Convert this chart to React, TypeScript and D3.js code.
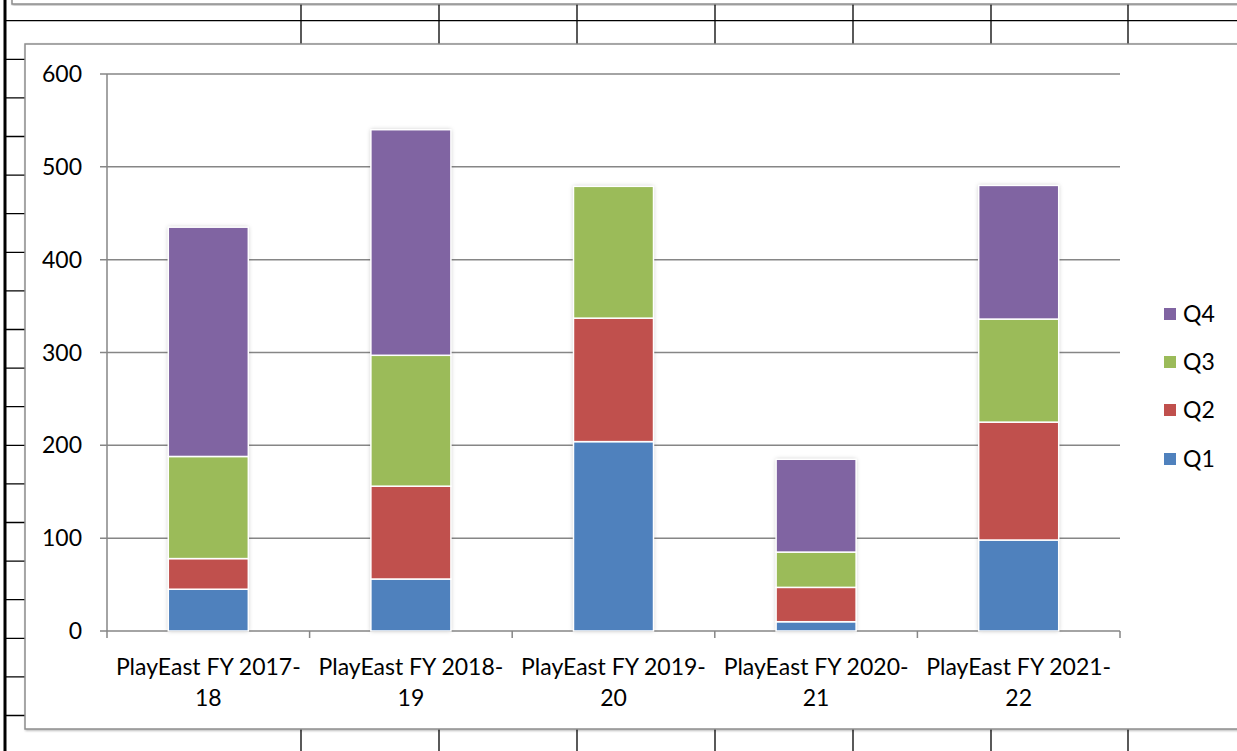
import React, { useEffect, useRef } from 'react';
import * as d3 from 'd3';

// chart data
const categories = [
  'PlayEast FY 2017-18',
  'PlayEast FY 2018-19',
  'PlayEast FY 2019-20',
  'PlayEast FY 2020-21',
  'PlayEast FY 2021-22',
];
const labelLines = [
  ['PlayEast FY 2017-', '18'],
  ['PlayEast FY 2018-', '19'],
  ['PlayEast FY 2019-', '20'],
  ['PlayEast FY 2020-', '21'],
  ['PlayEast FY 2021-', '22'],
];
const seriesNames = ['Q1', 'Q2', 'Q3', 'Q4'];
const q1 = [45, 56, 204, 10, 98];
const q2 = [33, 100, 133, 37, 127];
const q3 = [110, 141, 142, 38, 111];
const q4 = [247, 243, 0, 100, 144];
const yTicks = [0, 100, 200, 300, 400, 500, 600];

const colors = ['#4F81BD', '#C0504D', '#9BBB59', '#8064A2'];
const FONT = 'Lato, "Open Sans", sans-serif';

const W = 1237;
const H = 751;

const App: React.FC = () => {
  const svgRef = useRef<SVGSVGElement>(null);

  useEffect(() => {
    if (!svgRef.current) return;
    const svg = d3.select(svgRef.current);
    svg.selectAll('*').remove();

    svg.append('rect').attr('width', W).attr('height', H).style('fill', '#fff');

    // shadow filters
    const defs = svg.append('defs');
    const f = defs.append('filter').attr('id', 'barShadow').attr('x', '-20%').attr('y', '-5%').attr('width', '140%').attr('height', '110%');
    f.append('feDropShadow').attr('dx', 0).attr('dy', 0).attr('stdDeviation', 2).attr('flood-color', '#000').attr('flood-opacity', 0.25);
    const fb = defs.append('filter').attr('id', 'boxShadow').attr('x', '-5%').attr('y', '-5%').attr('width', '110%').attr('height', '110%');
    fb.append('feDropShadow').attr('dx', 1).attr('dy', 1).attr('stdDeviation', 0.8).attr('flood-color', '#000').attr('flood-opacity', 0.3);

    // spreadsheet grid behind the chart
    const grid = svg.append('g');
    const colX = [301, 439, 577, 715, 853, 991, 1128];
    const rowY = d3.range(0, 19).map((k) => 20.7 + k * 38.6);
    grid.selectAll('line.row').data(rowY).enter().append('line')
      .attr('x1', 6).attr('x2', W).attr('y1', (d) => d).attr('y2', (d) => d)
      .style('stroke', '#000').style('stroke-width', 1.3);
    grid.selectAll('line.col').data(colX).enter().append('line')
      .attr('x1', (d) => d).attr('x2', (d) => d).attr('y1', 0).attr('y2', H)
      .style('stroke', '#000').style('stroke-width', 1.3);
    grid.append('line').attr('x1', 5).attr('x2', 5).attr('y1', 0).attr('y2', H)
      .style('stroke', '#000').style('stroke-width', 3);

    // box of another chart above
    svg.append('rect').attr('x', 12).attr('y', -20).attr('width', 1300).attr('height', 24)
      .style('fill', '#fff').style('stroke', '#8c8c8c').style('stroke-width', 1.5)
      .style('filter', 'url(#boxShadow)');

    // chart box
    svg.append('rect').attr('x', 25).attr('y', 44).attr('width', 1300).attr('height', 685)
      .style('fill', '#fff').style('stroke', '#8c8c8c').style('stroke-width', 1.5)
      .style('filter', 'url(#boxShadow)');

    const plotL = 107;
    const plotR = 1120;
    const plotT = 74;
    const plotB = 631;

    const x = d3.scaleBand<string>().domain(categories).range([plotL, plotR])
      .paddingInner(0.605).paddingOuter(0.3025);
    const y = d3.scaleLinear().domain([0, 600]).range([plotB, plotT]);

    // gridlines
    svg.append('g').selectAll('line').data(yTicks).enter().append('line')
      .attr('x1', plotL - 7).attr('x2', plotR)
      .attr('y1', (d) => y(d)).attr('y2', (d) => y(d))
      .style('stroke', '#868686').style('stroke-width', 1.5);

    // y axis line
    svg.append('line').attr('x1', plotL).attr('x2', plotL).attr('y1', plotT).attr('y2', plotB)
      .style('stroke', '#868686').style('stroke-width', 1.5);

    // x ticks at category boundaries
    const step = x.step();
    const xTickPos = d3.range(0, categories.length + 1).map((i) => plotL + i * step);
    svg.append('g').selectAll('line').data(xTickPos).enter().append('line')
      .attr('x1', (d) => d).attr('x2', (d) => d).attr('y1', plotB).attr('y2', plotB + 7)
      .style('stroke', '#868686').style('stroke-width', 1.5);

    // y tick labels
    svg.append('g').selectAll('text').data(yTicks).enter().append('text')
      .attr('x', plotL - 25).attr('y', (d) => y(d)).attr('dy', '0.35em')
      .attr('text-anchor', 'end')
      .style('font-family', FONT).style('font-size', '23px').style('fill', '#000')
      .text((d) => d);

    // stacked bars
    const rows = categories.map((c, i) => ({ cat: c, Q1: q1[i], Q2: q2[i], Q3: q3[i], Q4: q4[i] }));
    const stacked = d3.stack<any>().keys(seriesNames)(rows);

    const barG = svg.append('g');
    // shadow behind whole bars
    barG.selectAll('rect.shadow').data(rows).enter().append('rect')
      .attr('x', (d) => x(d.cat)!)
      .attr('width', x.bandwidth())
      .attr('y', (d) => y(d.Q1 + d.Q2 + d.Q3 + d.Q4))
      .attr('height', (d) => plotB - y(d.Q1 + d.Q2 + d.Q3 + d.Q4))
      .style('fill', '#fff')
      .style('filter', 'url(#barShadow)');

    stacked.forEach((layer, li) => {
      barG.selectAll(`rect.s${li}`).data(layer.filter((d) => d[1] - d[0] > 0)).enter().append('rect')
        .attr('x', (d) => x(d.data.cat)!)
        .attr('width', x.bandwidth())
        .attr('y', (d) => y(d[1]))
        .attr('height', (d) => y(d[0]) - y(d[1]))
        .style('fill', colors[li])
        .style('stroke', '#fff')
        .style('stroke-width', 1.5);
    });

    // category labels
    const lab = svg.append('g').selectAll('g').data(categories).enter().append('g')
      .attr('transform', (d) => `translate(${x(d)! + x.bandwidth() / 2},0)`);
    lab.each(function (d, i) {
      const g = d3.select(this);
      labelLines[i].forEach((line, li) => {
        g.append('text')
          .attr('x', 0).attr('y', 675 + li * 31)
          .attr('text-anchor', 'middle')
          .style('font-family', FONT).style('font-size', '23px').style('fill', '#000')
          .text(line);
      });
    });

    // legend, Q4 on top
    const legendY = [459, 410, 362, 314];
    const leg = svg.append('g').selectAll('g').data(seriesNames).enter().append('g')
      .attr('transform', (d, i) => `translate(1164,${legendY[i]})`);
    leg.append('rect').attr('x', 0).attr('y', -6).attr('width', 12).attr('height', 12)
      .style('fill', (d, i) => colors[i]);
    leg.append('text').attr('x', 19).attr('y', 0).attr('dy', '0.35em')
      .style('font-family', FONT).style('font-size', '23px').style('fill', '#000')
      .text((d) => d);
  }, []);

  return (
    <div style={{ position: 'fixed', left: 0, top: 0, width: W, height: H, background: '#fff' }}>
      <svg ref={svgRef} width={W} height={H} />
    </div>
  );
};

export default App;
